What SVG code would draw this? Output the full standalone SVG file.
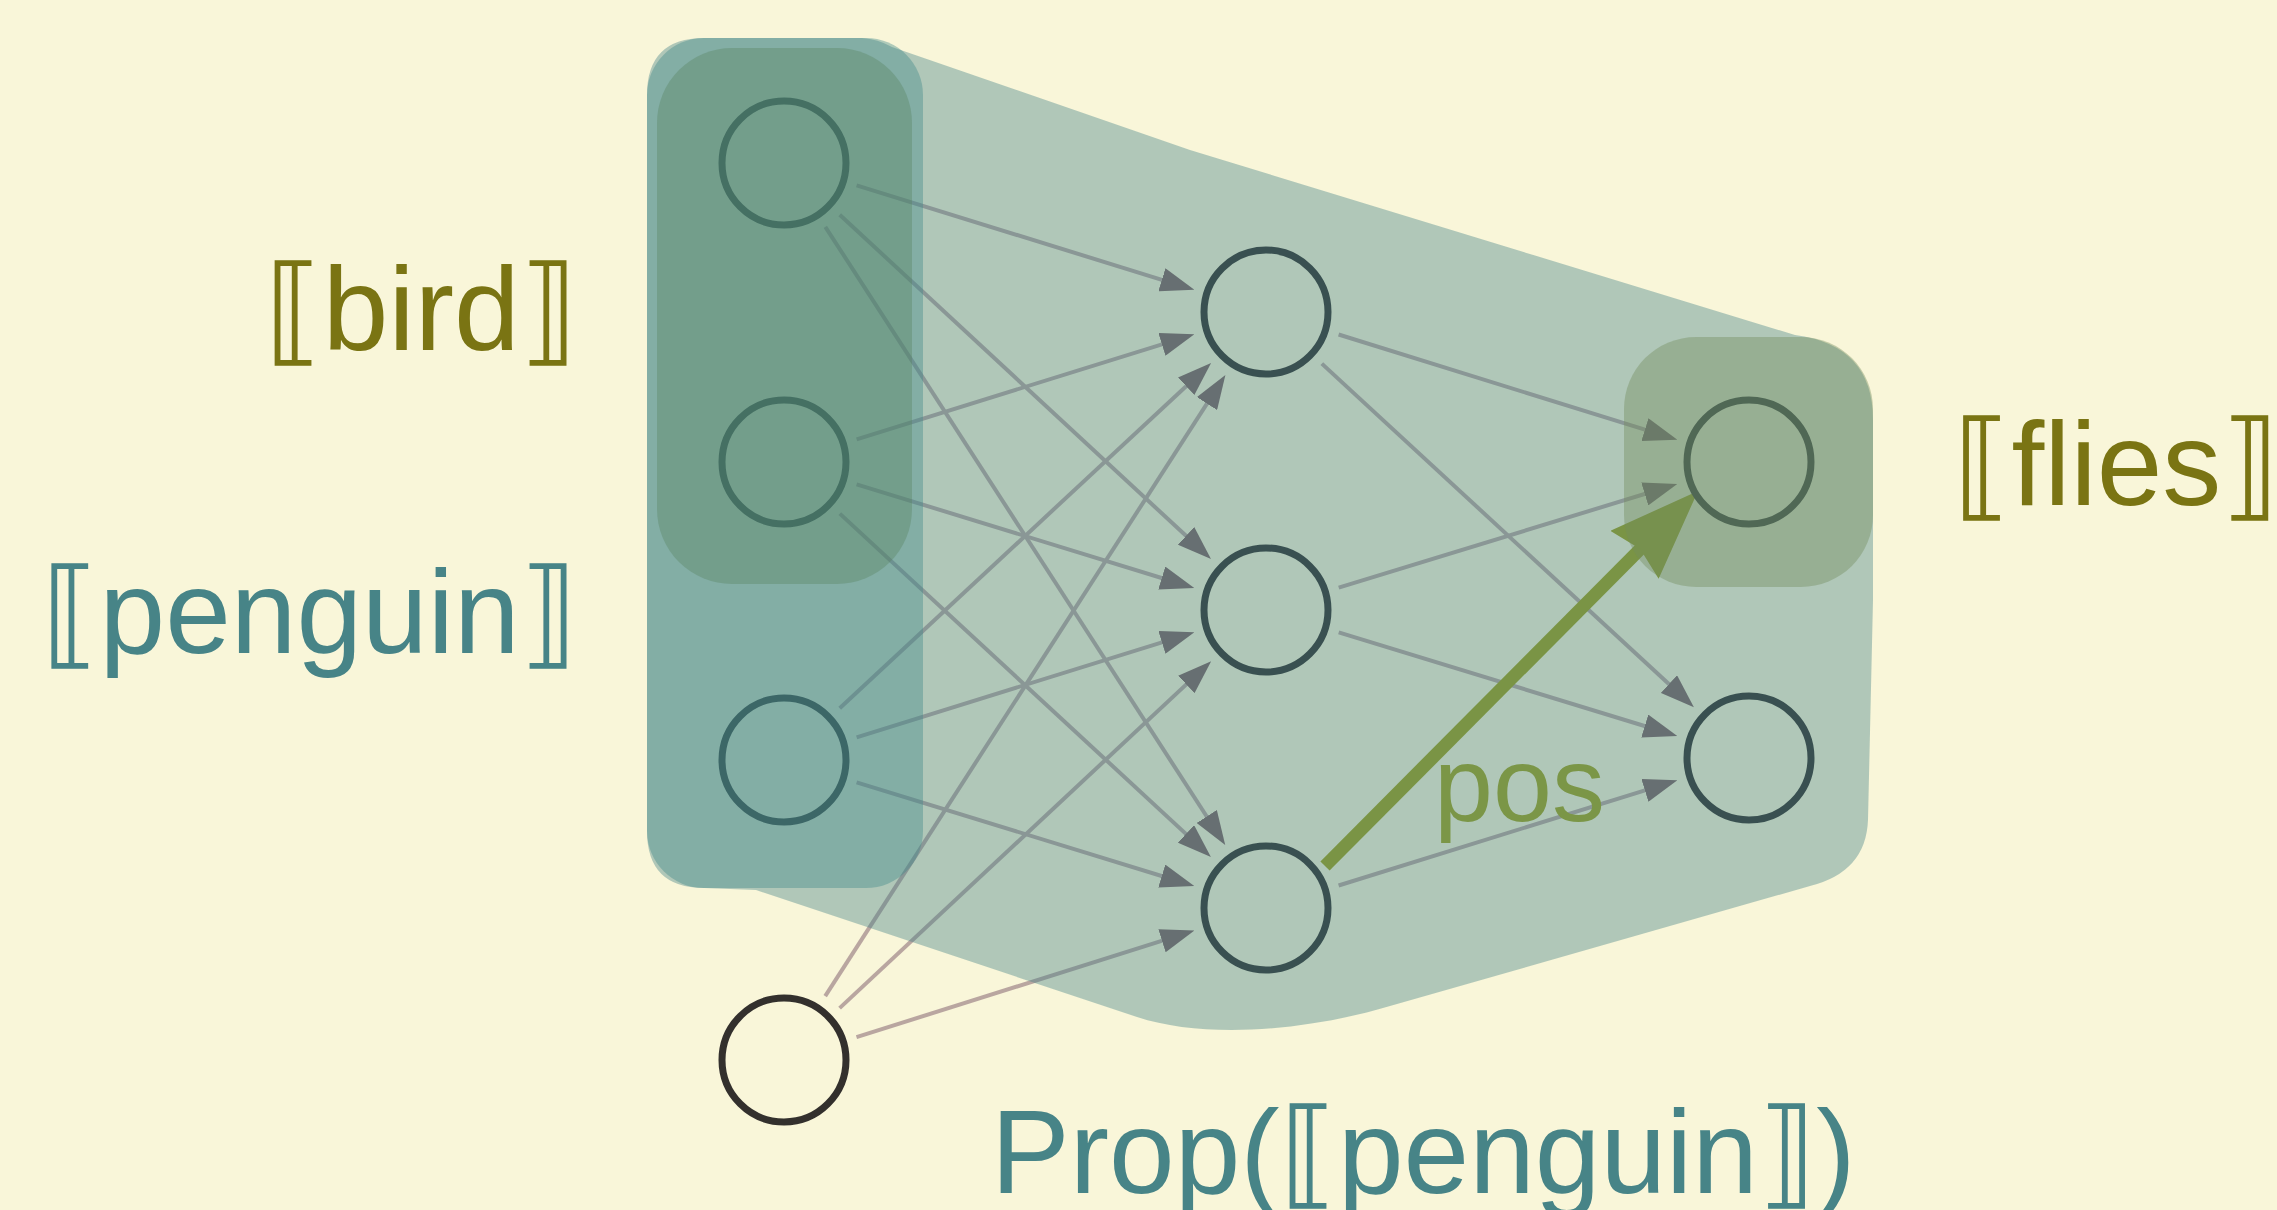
<svg xmlns="http://www.w3.org/2000/svg" width="2277" height="1210" viewBox="0 0 2277 1210">
<style>
.bg{fill:#f9f6d9}
.edge{stroke:#b9a6a0;stroke-width:4;fill:none;marker-end:url(#ah)}
.pos{stroke:#9fa119;stroke-width:13;fill:none;marker-end:url(#ahpos)}
.node circle{fill:none;stroke:#33302d;stroke-width:7}
.hull{fill:#438387;opacity:0.4}
.grp-input{fill:#428a89;opacity:0.4}
.grp-bird{fill:#56815b;opacity:0.35}
.grp-flies{fill:#748c5c;opacity:0.4}
.lbl{font-family:"Liberation Sans","DejaVu Sans",sans-serif;font-size:118px}
.olive{fill:#7a7413}
.teal{fill:#478487}
.poslbl{font-family:"Liberation Sans","DejaVu Sans",sans-serif;font-size:106px;fill:#7b9647}
</style>
<defs>
<marker id="ah" markerUnits="userSpaceOnUse" markerWidth="34" markerHeight="24" viewBox="0 0 34 24" refX="22" refY="12" orient="auto"><path d="M0,0 L34,12 L0,24 Z" fill="#7f6364"/></marker>
<marker id="ahpos" markerUnits="userSpaceOnUse" markerWidth="90" markerHeight="68" viewBox="0 0 90 68" refX="30" refY="34" orient="auto"><path d="M0,0 L90,34 L0,68 L8,34 Z" fill="#9fa119"/></marker>
</defs>
<rect class="bg" x="0" y="0" width="2277" height="1210"/>
<g id="connectors">
<line class="edge" x1="856.6" y1="185.4" x2="1182.9" y2="286.3"/>
<line class="edge" x1="839.7" y1="214.7" x2="1202.2" y2="550.8"/>
<line class="edge" x1="825.3" y1="226.8" x2="1218.7" y2="835.0"/>
<line class="edge" x1="856.6" y1="439.4" x2="1182.9" y2="337.8"/>
<line class="edge" x1="856.6" y1="484.3" x2="1182.8" y2="584.5"/>
<line class="edge" x1="839.8" y1="513.6" x2="1202.1" y2="848.9"/>
<line class="edge" x1="839.7" y1="708.3" x2="1202.3" y2="371.2"/>
<line class="edge" x1="856.6" y1="737.4" x2="1182.9" y2="635.8"/>
<line class="edge" x1="856.6" y1="782.3" x2="1182.8" y2="882.5"/>
<line class="edge" x1="825.2" y1="996.1" x2="1218.9" y2="385.1"/>
<line class="edge" x1="839.6" y1="1008.1" x2="1202.4" y2="669.4"/>
<line class="edge" x1="856.5" y1="1037.1" x2="1183.0" y2="934.2"/>
<line class="edge" x1="1338.6" y1="334.5" x2="1665.9" y2="436.2"/>
<line class="edge" x1="1321.8" y1="363.6" x2="1685.1" y2="699.0"/>
<line class="edge" x1="1338.7" y1="587.7" x2="1665.8" y2="487.5"/>
<line class="edge" x1="1338.7" y1="632.3" x2="1665.8" y2="732.5"/>
<line class="edge" x1="1338.6" y1="885.5" x2="1665.9" y2="783.8"/>
<line class="pos" x1="1325" y1="866" x2="1655.7" y2="533.5"/>
</g>
<g id="node-in1" class="node"><circle cx="784" cy="163" r="62"/></g>
<g id="node-in2" class="node"><circle cx="784" cy="462" r="62"/></g>
<g id="node-in3" class="node"><circle cx="784" cy="760" r="62"/></g>
<g id="node-bias" class="node"><circle cx="784" cy="1060" r="62"/></g>
<g id="node-h1" class="node"><circle cx="1266" cy="312" r="62"/></g>
<g id="node-h2" class="node"><circle cx="1266" cy="610" r="62"/></g>
<g id="node-h3" class="node"><circle cx="1266" cy="908" r="62"/></g>
<g id="node-out1" class="node"><circle cx="1749" cy="462" r="62"/></g>
<g id="node-out2" class="node"><circle cx="1749" cy="758" r="62"/></g>
<g id="group-prop"><path class="hull" d="M647,95 Q647,38 704,38 L862,38 Q878,39 892,47 L1190,150 L1795,335 Q1873,345 1873,420 L1873,600 L1868,820 Q1866,872 1810,886 L1390,1006 C1310,1030 1207,1040 1137,1017 L756,890 L704,888 Q647,888 647,831 Z"/></g>
<g id="group-penguin"><rect class="grp-input" x="647" y="38" width="276" height="850" rx="57"/></g>
<g id="group-bird"><rect class="grp-bird" x="657" y="48" width="255" height="536" rx="75"/></g>
<g id="group-flies"><rect class="grp-flies" x="1624" y="337" width="249" height="250" rx="72"/></g>
<g id="labels">
<text class="lbl olive" x="578" y="350" text-anchor="end">⟦bird⟧</text>
<text class="lbl teal" x="578" y="653" text-anchor="end">⟦penguin⟧</text>
<text class="lbl olive" x="1953" y="505">⟦flies⟧</text>
<text class="lbl teal" x="991" y="1193">Prop(⟦penguin⟧)</text>
<text class="poslbl" x="1434" y="821">pos</text>
</g>
</svg>
